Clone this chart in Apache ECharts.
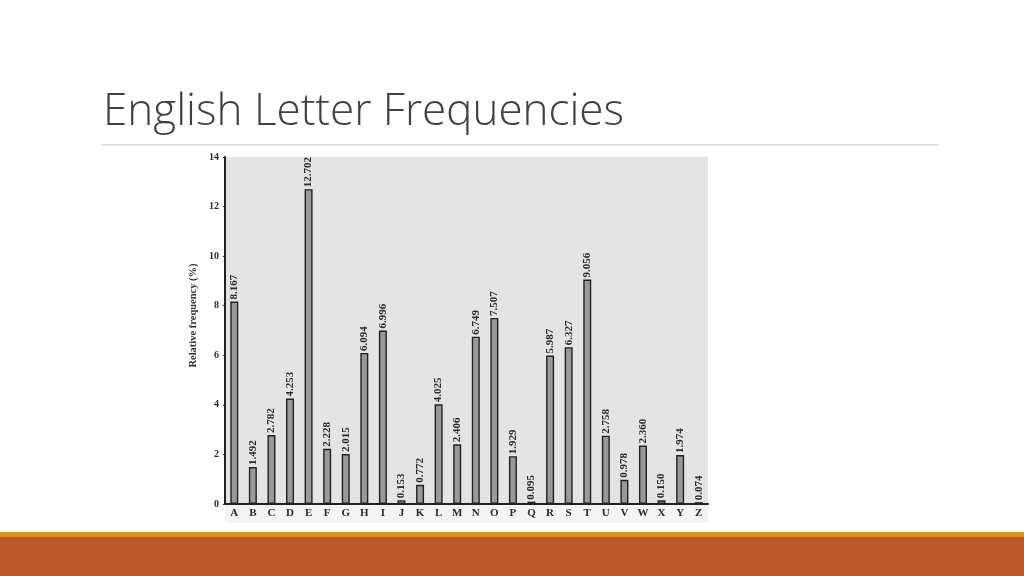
<!DOCTYPE html>
<html>
<head>
<meta charset="utf-8">
<script src="https://cdn.jsdelivr.net/npm/echarts@6/dist/echarts.min.js"></script>
<style>
  html, body { margin: 0; padding: 0; background: #fff; }
  #main { width: 1024px; height: 576px; }
</style>
</head>
<body>
<div id="main"></div>
<script>
const letters = ['A', 'B', 'C', 'D', 'E', 'F', 'G', 'H', 'I', 'J', 'K', 'L', 'M',
  'N', 'O', 'P', 'Q', 'R', 'S', 'T', 'U', 'V', 'W', 'X', 'Y', 'Z'];
const freq = [8.167, 1.492, 2.782, 4.253, 12.702, 2.228, 2.015, 6.094, 6.996, 0.153, 0.772, 4.025, 2.406,
  6.749, 7.507, 1.929, 0.095, 5.987, 6.327, 9.056, 2.758, 0.978, 2.360, 0.150, 1.974, 0.074];
const freqLabels = ['8.167', '1.492', '2.782', '4.253', '12.702', '2.228', '2.015', '6.094', '6.996', '0.153',
  '0.772', '4.025', '2.406', '6.749', '7.507', '1.929', '0.095', '5.987', '6.327', '9.056', '2.758', '0.978',
  '2.360', '0.150', '1.974', '0.074'];

const serif = '"Liberation Serif", "DejaVu Serif", serif';
const chart = echarts.init(document.getElementById('main'));

chart.setOption({
  animation: false,
  backgroundColor: '#ffffff',
  title: {
    text: 'English Letter Frequencies',
    left: 98,
    top: 85,
    textStyle: {
      fontFamily: '"Open Sans"',
      fontWeight: 300,
      fontSize: 44,
      color: '#404040'
    }
  },
  graphic: [
    { type: 'rect', z: -10, shape: { x: 102, y: 144, width: 836, height: 1.5 }, style: { fill: '#d9d9d9' } },
    { type: 'rect', z: -10, shape: { x: 225, y: 504, width: 483, height: 19 }, style: { fill: '#f4f4f4' } },
    { type: 'rect', z: -10, shape: { x: 0, y: 532, width: 1024, height: 5 }, style: { fill: '#e58b1f' } },
    { type: 'rect', z: -10, shape: { x: 0, y: 537, width: 1024, height: 39 }, style: { fill: '#bd582c' } }
  ],
  grid: {
    left: 225,
    right: 316,
    top: 157,
    bottom: 72,
    show: true,
    backgroundColor: '#e4e4e4',
    borderWidth: 0
  },
  xAxis: {
    type: 'category',
    data: letters,
    axisLine: { lineStyle: { color: '#222', width: 2 } },
    axisTick: { show: false },
    axisLabel: {
      fontFamily: serif,
      fontWeight: 'bold',
      fontSize: 11,
      color: '#2a2a2a',
      margin: 4,
      interval: 0
    }
  },
  yAxis: {
    type: 'value',
    min: 0,
    max: 14,
    interval: 2,
    name: 'Relative frequency (%)',
    nameLocation: 'middle',
    nameGap: 26,
    nameTextStyle: {
      fontFamily: serif,
      fontWeight: 'bold',
      fontSize: 10.5,
      color: '#333',
      padding: [0, 0, 0, 30]
    },
    axisLine: { show: true, lineStyle: { color: '#222', width: 2 } },
    axisTick: { show: true, length: 2, lineStyle: { color: '#222' } },
    splitLine: { show: false },
    axisLabel: {
      fontFamily: serif,
      fontWeight: 'bold',
      fontSize: 10,
      color: '#2a2a2a',
      margin: 6
    }
  },
  series: [{
    type: 'bar',
    data: freq,
    barWidth: 8,
    itemStyle: {
      color: '#999999',
      borderColor: '#222222',
      borderWidth: 1.4
    },
    label: {
      show: true,
      position: 'top',
      rotate: 90,
      align: 'left',
      verticalAlign: 'middle',
      distance: 2,
      fontFamily: serif,
      fontWeight: 'bold',
      fontSize: 11,
      color: '#2a2a2a',
      formatter: p => freqLabels[p.dataIndex]
    }
  }]
});
</script>
</body>
</html>
